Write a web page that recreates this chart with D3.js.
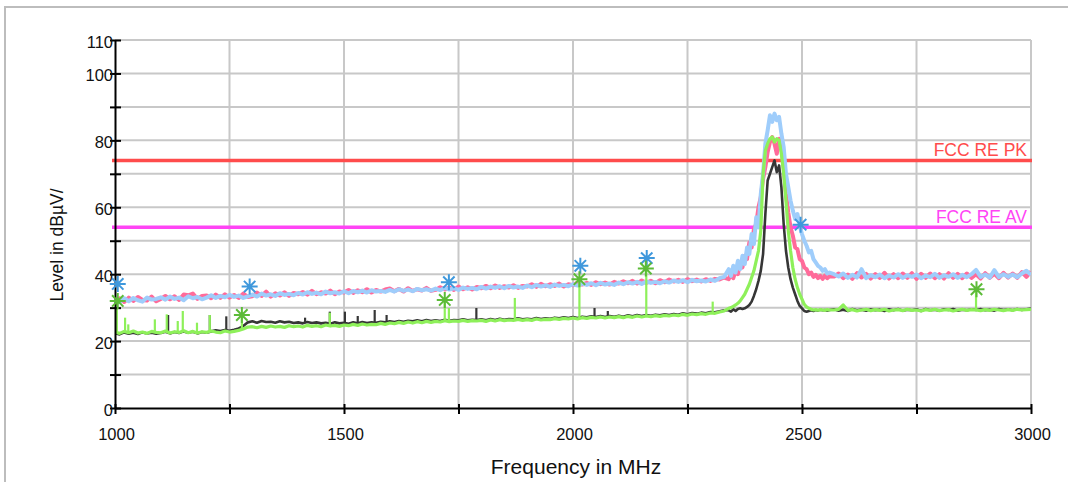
<!DOCTYPE html>
<html><head><meta charset="utf-8">
<script src="https://cdn.jsdelivr.net/npm/d3@7"></script>
<style>
body{margin:0;background:#fff;}
svg{display:block;font-family:"Liberation Sans",Arial,Helvetica,sans-serif;}
</style>
</head><body>
<svg id="chart" width="1073" height="482"></svg>
<script>
// ---------- DATA ----------
const xTicks = [1000,1250,1500,1750,2000,2250,2500,2750,3000];
const xLabelled = [1000,1500,2000,2500,3000];
const yTicks = [0,10,20,30,40,50,60,70,80,90,100,110];
const yLabelled = [0,20,40,60,80,100,110];

const limitNames = ["FCC RE PK","FCC RE AV"];
const limitLevels = [74, 54];

// frequency grid (MHz): 10 MHz steps, 5 MHz around the 2.4 GHz carrier
const freqLow  = d3.range(1000, 2331, 10);
const freqPeak = d3.range(2340, 2561, 5);
const freqHigh = d3.range(2570, 3001, 10);

// Peak trace, polarisation 1 (light blue)
const blueLow = [
32.0,31.6,32.8,31.9,32.9,32.2,31.8,33.0,32.4,32.6,
33.1,32.4,33.3,32.6,33.0,32.2,33.4,32.8,33.2,32.5,
33.0,33.7,32.9,33.5,33.1,33.8,33.2,33.6,32.9,33.4,
33.9,33.3,34.2,33.6,34.0,33.5,34.3,33.8,34.1,33.7,
34.4,33.9,34.6,34.1,34.5,34.0,34.8,34.3,34.6,34.2,
34.9,34.3,35.0,34.6,35.1,34.5,35.2,34.8,35.0,34.7,
35.3,34.8,35.5,35.0,35.4,34.9,35.6,35.2,35.5,35.1,
35.7,35.2,35.9,35.4,35.8,35.3,36.0,35.6,35.9,35.5,
36.2,35.7,36.3,35.9,36.4,35.8,36.5,36.0,36.3,35.9,
36.6,36.1,36.8,36.3,36.7,36.2,36.9,36.5,36.8,36.4,
37.0,36.6,37.2,36.8,37.3,36.7,37.4,36.9,37.2,36.8,
37.5,37.0,37.6,37.2,37.7,37.1,37.8,37.4,37.7,37.3,
37.9,37.5,38.1,37.7,38.2,37.6,38.3,37.9,38.1,37.8,
38.4,38.0,38.8,39.2];
const bluePeak = [
41.5,39.5,42.5,40.5,44.0,41.5,45.5,43.0,48.0,46.0,
52.0,49.0,57.0,54.0,64.0,70.0,79.0,83.0,87.5,85.5,
88.0,86.0,87.0,82.0,78.0,70.0,66.0,62.0,59.0,56.5,
58.0,54.5,52.0,50.0,48.5,46.5,47.0,44.5,43.5,42.5,
42.0,41.0,41.5,40.2,40.5];
const blueHigh = [
40.0,39.3,40.2,38.9,39.8,39.0,41.5,38.8,39.7,39.1,
39.9,38.8,39.6,39.0,40.0,38.9,39.7,39.2,39.9,38.8,
39.6,39.1,40.1,38.9,39.7,39.2,40.0,38.9,39.8,39.1,
40.0,41.3,39.2,39.9,39.0,41.2,39.1,40.0,39.2,39.9,
39.1,40.2,41.0,39.8];

// Peak trace, polarisation 2 (pink)
const pinkLow = [
31.5,32.8,31.7,33.0,32.0,33.2,32.3,32.1,33.3,31.9,
32.6,33.5,32.5,33.4,32.3,33.9,33.7,34.2,32.6,33.5,
33.6,32.8,33.9,32.9,34.0,33.0,33.8,32.9,34.2,33.2,
33.4,34.5,33.5,34.8,33.3,34.3,33.6,34.6,33.5,34.4,
34.0,34.7,33.9,35.0,34.0,34.6,34.2,35.1,34.0,34.8,
34.5,35.3,34.4,35.2,34.6,35.5,34.5,35.3,34.8,35.4,
35.7,34.9,35.6,34.8,35.8,35.0,35.5,35.1,35.9,35.0,
35.3,36.1,35.4,36.0,35.3,36.3,35.5,36.1,35.4,36.2,
35.8,36.5,35.8,36.6,35.9,36.4,36.0,36.7,35.9,36.5,
36.3,37.0,36.2,37.1,36.4,37.0,36.5,37.2,36.3,37.0,
36.7,37.5,36.9,37.4,36.8,37.6,37.0,37.5,36.9,37.7,
37.2,37.9,37.3,38.0,37.2,38.1,37.4,38.0,37.3,38.2,
37.6,38.4,37.8,38.3,37.7,38.5,37.9,38.4,37.8,38.5,
38.0,38.6,38.4,39.0];
const pinkPeak = [
38.5,40.0,38.8,41.0,40.0,43.5,42.0,45.5,44.5,49.5,
48.0,53.5,55.0,60.0,63.0,68.5,72.0,76.5,79.5,81.0,
79.0,76.0,80.5,78.0,72.0,64.0,58.5,54.0,51.5,48.0,
47.5,44.5,44.0,42.0,41.5,40.0,40.5,39.2,39.8,38.8,
39.5,38.6,39.6,38.8,39.4];
const pinkHigh = [
39.3,40.2,38.8,39.9,38.6,40.3,39.0,40.1,38.7,40.0,
38.9,40.4,38.7,40.0,38.8,40.2,38.9,40.3,38.6,40.1,
38.9,40.2,38.8,40.0,38.7,40.3,38.9,40.1,38.8,40.2,
38.9,40.0,38.7,40.3,38.9,40.1,38.8,40.4,39.0,40.2,
38.9,40.6,39.2,40.8];

// Average trace (dark grey)
const blackLow = [
22.4,22.0,22.6,22.2,22.5,22.1,22.6,22.3,22.5,22.2,
22.4,22.8,22.3,22.7,22.4,22.9,22.5,22.8,22.3,22.7,
22.5,22.9,23.2,23.0,23.3,23.1,23.4,23.8,24.5,25.6,
25.9,25.5,26.0,25.7,25.8,25.5,25.9,25.6,25.8,25.4,
25.6,25.3,25.7,25.4,25.6,25.3,25.5,25.2,25.6,25.3,
25.5,25.2,25.6,25.3,25.7,25.4,25.6,25.5,25.8,25.6,
25.9,25.7,26.0,25.8,26.1,25.9,26.2,25.9,26.3,26.0,
26.2,26.0,26.4,26.1,26.3,26.2,26.5,26.2,26.4,26.3,
26.5,26.2,26.6,26.3,26.7,26.4,26.6,26.5,26.8,26.5,
26.7,26.5,26.9,26.6,26.8,26.7,27.0,26.8,27.1,26.9,
27.2,26.9,27.3,27.1,27.4,27.2,27.5,27.2,27.5,27.3,
27.6,27.3,27.7,27.4,27.8,27.5,27.8,27.6,27.9,27.7,
28.0,27.8,28.1,27.9,28.3,28.0,28.4,28.2,28.5,28.3,
28.7,28.6,28.9,29.2];
const blackPeak = [
29.2,28.8,29.5,29.0,29.6,29.8,29.6,29.8,30.2,30.8,
31.8,33.5,35.5,38.0,41.0,46.0,58.0,68.0,70.0,72.0,
74.0,70.5,72.5,66.0,55.0,47.0,42.0,38.5,36.0,34.0,
32.0,30.5,29.8,29.0,28.8,29.0,29.2,29.0,29.3,29.1,
29.4,29.2,29.3,29.1,29.3];
const blackHigh = [
29.5,29.1,29.4,29.0,29.6,29.2,29.4,29.1,29.5,29.2,
29.4,29.0,29.5,29.2,29.6,29.1,29.4,29.2,29.5,29.0,
29.6,29.2,29.4,29.1,29.5,29.3,29.6,29.1,29.4,29.2,
29.5,29.3,29.6,29.2,29.4,29.1,29.6,29.3,29.5,29.2,
29.6,29.3,29.5,29.7];

// Average trace (light green)
const greenLow = [
22.8,22.3,22.9,22.5,23.0,22.4,22.7,22.3,22.9,22.6,
22.5,23.0,22.4,22.8,22.6,23.1,22.5,22.9,22.4,22.8,
22.6,23.0,22.7,22.5,23.0,22.7,22.9,23.2,23.6,24.2,
24.3,24.0,24.4,24.1,24.5,24.2,24.4,24.1,24.6,24.3,
24.5,24.2,24.7,24.4,24.6,24.3,24.8,24.5,24.7,24.4,
24.8,24.6,25.0,24.7,25.1,24.8,25.0,24.9,25.3,25.0,
25.4,25.2,25.6,25.3,25.7,25.4,25.8,25.5,25.9,25.6,
25.9,25.7,26.1,25.8,26.0,25.9,26.2,25.9,26.1,26.0,
26.2,25.9,26.3,26.0,26.4,26.1,26.3,26.2,26.5,26.2,
26.4,26.2,26.6,26.3,26.5,26.4,26.7,26.5,26.8,26.6,
26.9,26.6,27.0,26.8,27.1,26.9,27.2,26.9,27.2,27.0,
27.3,27.0,27.4,27.1,27.5,27.2,27.5,27.3,27.6,27.4,
27.7,27.5,27.8,27.6,28.0,27.7,28.1,27.9,28.2,28.0,
28.4,28.3,28.7,29.0];
const greenPeak = [
29.8,30.0,30.4,30.8,31.3,32.0,33.0,34.0,35.5,37.0,
39.0,41.0,44.0,47.0,53.0,70.0,77.0,79.0,80.5,81.0,
79.5,80.5,80.0,76.0,70.0,62.0,53.0,47.0,42.0,38.5,
36.0,34.0,32.5,31.0,30.2,29.8,29.5,29.3,29.4,29.2,
29.4,29.3,29.2,29.4,29.3];
const greenHigh = [
29.3,29.5,30.8,29.2,29.4,29.0,29.3,29.5,29.1,29.4,
29.2,29.5,29.0,29.3,29.4,29.1,29.5,29.2,29.3,29.0,
29.4,29.2,29.5,29.1,29.3,29.4,29.0,29.3,29.5,29.2,
29.4,29.3,29.1,29.4,29.2,29.5,29.3,29.1,29.4,29.2,
29.5,29.3,29.4,29.5];

// narrow spurious spikes [MHz, dBuV/m]
const blackSpikes = [[1116,27.8],[1207,27.8],[1243,27.4],[1415,27.0],[1469,28.8],[1502,28.8],[1530,27.5],[1567,29.3],[1593,27.8],[1789,29.9],[2047,29.9],[2076,29.0]];
const greenSpikes = [[1004,32.0],[1022,27.0],[1029,25.0],[1087,26.5],[1113,28.0],[1137,26.0],[1148,29.0],[1179,25.5],[1207,27.8],[1277,27.8],[1469,28.5],[1720,32.3],[1729,29.9],[1873,32.9],[2014,38.5],[2160,41.5],[2305,31.8],[2880,35.5]];

// detected peaks (asterisk markers)
const bluePeaksF = [1006,1294,1729,2016,2161,2497];
const bluePeaksL = [37.1,36.3,37.6,42.5,44.8,54.8];
const greenPeaksF = [1006,1277,1720,2014,2159,2881];
const greenPeaksL = [32.0,27.8,32.3,38.5,41.7,35.5];

// ---------- CHART ----------
const freq = [...freqLow, ...freqPeak, ...freqHigh];
const series = {
  pink: [...pinkLow, ...pinkPeak, ...pinkHigh],
  blue: [...blueLow, ...bluePeak, ...blueHigh],
  black: [...blackLow, ...blackPeak, ...blackHigh],
  green: [...greenLow, ...greenPeak, ...greenHigh]
};
Object.entries(series).forEach(([k,v]) => { if (v.length !== freq.length) console.error(k, v.length, freq.length); });

const C = {
  grid:"#c8c8c8", axis:"#000", pink:"#ff6b9a", blue:"#9fcdfb", black:"#363636", green:"#8ef05a",
  limits:["#ff4c4c","#ff44f5"], blueMark:"#3f98dc", greenMark:"#5cbb38", frame:"#bdbdbd"
};

const svg = d3.select("#chart");
const x = d3.scaleLinear().domain([1000,3000]).range([115,1031]);
const y = d3.scaleLinear().domain([0,110]).range([408,40]);

// outer frame
svg.append("path").attr("d","M5,482V7H1068").attr("fill","none").attr("stroke",C.frame).attr("stroke-width",2);

// grid
svg.append("g").selectAll("line").data(yTicks.filter(d=>d>0)).join("line")
  .attr("x1",x(1000)).attr("x2",x(3000)).attr("y1",d=>y(d)).attr("y2",d=>y(d))
  .attr("stroke",C.grid).attr("stroke-width",2);
svg.append("g").selectAll("line").data(xTicks.filter(d=>d>1000)).join("line")
  .attr("x1",d=>x(d)).attr("x2",d=>x(d)).attr("y1",y(110)).attr("y2",y(0))
  .attr("stroke",C.grid).attr("stroke-width",2);

// limit lines
limitLevels.forEach((lv,i)=>{
  svg.append("line").attr("x1",x(1000)-3).attr("x2",x(3000)+1).attr("y1",y(lv)).attr("y2",y(lv))
    .attr("stroke",C.limits[i]).attr("stroke-width",3.5);
  svg.append("text").attr("x",x(3000)-4).attr("y",y(lv)-4).attr("text-anchor","end")
    .attr("font-size",17.5).attr("fill",C.limits[i]).text(limitNames[i]);
});

// traces
svg.append("clipPath").attr("id","plot").append("rect")
  .attr("x",x(1000)).attr("y",y(110)).attr("width",x(3000)-x(1000)).attr("height",y(0)-y(110));
const plot = svg.append("g").attr("clip-path","url(#plot)");
const line = d3.line().x(d=>x(d[0])).y(d=>y(d[1]));
const widths = {pink:4, blue:4, black:2.6, green:3.2};
const bis = d3.bisector(d=>d).center;
function drawSeries(name){
  const pts = freq.map((f,i)=>[f, series[name][i]]);
  plot.append("path").datum(pts).attr("d",line).attr("fill","none")
    .attr("stroke",C[name]).attr("stroke-width",widths[name]).attr("stroke-linejoin","round");
}
function drawSpikes(name, spikes){
  plot.append("g").selectAll("line").data(spikes).join("line")
    .attr("x1",d=>x(d[0])).attr("x2",d=>x(d[0]))
    .attr("y1",d=>y(series[name][bis(freq,d[0])])).attr("y2",d=>y(d[1]))
    .attr("stroke",C[name]).attr("stroke-width",2.2);
}
drawSeries("pink");
drawSeries("blue");
drawSeries("black");
drawSpikes("black", blackSpikes);
drawSeries("green");
drawSpikes("green", greenSpikes);

// axes
const yAxis = d3.axisLeft(y).tickValues(yTicks).tickSize(5).tickSizeOuter(0)
  .tickFormat(d=>yLabelled.includes(d)?String(d):"");
const gy = svg.append("g").attr("transform",`translate(${x(1000)},0)`).call(yAxis);
gy.select(".domain").attr("stroke",C.axis).attr("stroke-width",2);
gy.selectAll(".tick line").attr("x1",6).attr("stroke",C.axis).attr("stroke-width",2);
gy.selectAll(".tick text").attr("x",-2).attr("dy","0.45em").attr("font-size",16.5).attr("fill","#111").attr("font-family",null);

const xAxis = d3.axisBottom(x).tickValues(xTicks).tickSize(6).tickSizeOuter(0)
  .tickFormat(d=>xLabelled.includes(d)?String(d):"");
const gx = svg.append("g").attr("transform",`translate(0,${y(0)})`).call(xAxis);
gx.select(".domain").attr("stroke",C.axis).attr("stroke-width",2);
gx.selectAll(".tick line").attr("y1",-4).attr("stroke",C.axis).attr("stroke-width",2);
gx.selectAll(".tick text").attr("y",32).attr("dy",0).attr("x",1).attr("font-size",16.5).attr("fill","#111").attr("font-family",null);

// markers
const star = "M-8,0H8M0,-8V8M-5.7,-5.7L5.7,5.7M-5.7,5.7L5.7,-5.7";
function drawMarkers(fs, ls, col){
  svg.append("g").selectAll("path").data(fs.map((f,i)=>[f,ls[i]])).join("path")
    .attr("d",star).attr("transform",d=>`translate(${x(d[0])},${y(d[1])})`)
    .attr("fill","none").attr("stroke",col).attr("stroke-width",2);
}
drawMarkers(bluePeaksF, bluePeaksL, C.blueMark);
drawMarkers(greenPeaksF, greenPeaksL, C.greenMark);

// titles
svg.append("text").attr("x",576).attr("y",474).attr("text-anchor","middle")
  .attr("font-size",21).attr("fill","#111").text("Frequency in MHz");
svg.append("text").attr("transform","translate(63,245) rotate(-90)").attr("text-anchor","middle")
  .attr("font-size",17.5).attr("fill","#111").text("Level in dBµV/");
</script>
</body></html>
